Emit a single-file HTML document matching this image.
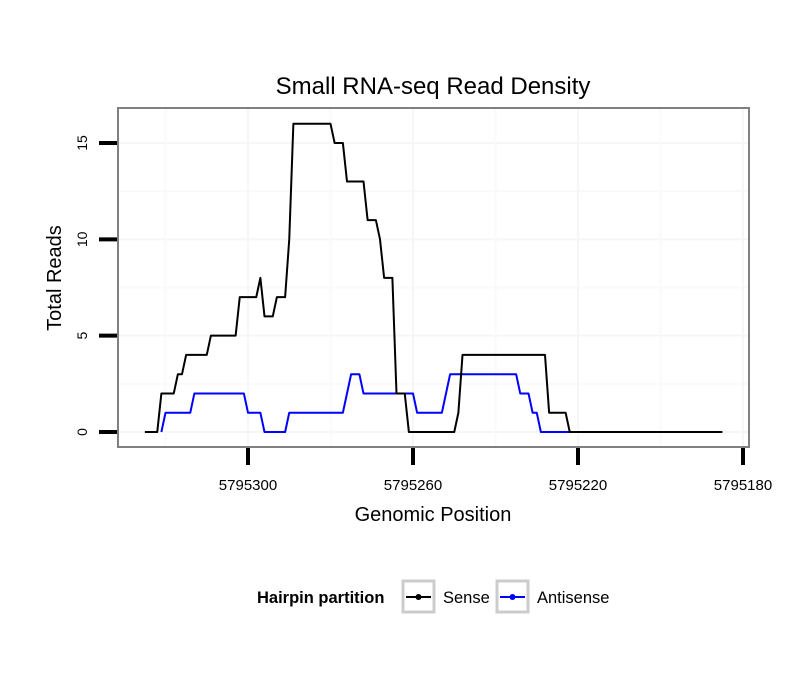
<!DOCTYPE html>
<html><head><meta charset="utf-8"><style>
body{margin:0;background:#fff;}
svg text{font-family:"Liberation Sans",sans-serif;}
</style></head><body>
<svg id="chart" width="810" height="690" xmlns="http://www.w3.org/2000/svg">
<text x="433" y="94" text-anchor="middle" font-size="24">Small RNA-seq Read Density</text>
<g id="grid"></g>
<g id="series"></g>
<rect x="118" y="108" width="631" height="339" fill="none" stroke="#808080" stroke-width="2"/>
<g id="axes"></g>
<text x="433" y="521" text-anchor="middle" font-size="20">Genomic Position</text>
<text transform="translate(61,278) rotate(-90)" text-anchor="middle" font-size="20">Total Reads</text>
<g>
<text x="257" y="603" font-size="16.5" font-weight="bold">Hairpin partition</text>
<g>
<rect x="403" y="581" width="31" height="31" fill="#fff" stroke="#cccccc" stroke-width="3"/>
<line x1="406" y1="597" x2="431" y2="597" stroke="#000" stroke-width="2"/>
<circle cx="418.5" cy="597" r="3" fill="#000"/>
<text x="443" y="603" font-size="16.5">Sense</text>
</g>
<g>
<rect x="497" y="581" width="31" height="31" fill="#fff" stroke="#cccccc" stroke-width="3"/>
<line x1="500" y1="597" x2="525" y2="597" stroke="#0000ff" stroke-width="2"/>
<circle cx="512.5" cy="597" r="3" fill="#0000ff"/>
<text x="537" y="603" font-size="16.5">Antisense</text>
</g>
</g>
</svg>
<script>
const xTicks = [5795300, 5795260, 5795220, 5795180];
const yTicks = [0, 5, 10, 15];
const senseX = [5795325,5795322,5795321,5795318,5795317,5795316,5795315,5795310,5795309,5795303,5795302,5795298,5795297,5795296,5795294,5795293,5795291,5795290,5795289,5795280,5795279,5795277,5795276,5795272,5795271,5795269,5795268,5795267,5795265,5795264,5795262,5795261,5795250,5795249,5795248,5795228,5795227,5795223,5795222,5795185];
const senseY = [0,0,2,2,3,3,4,4,5,5,7,7,8,6,6,7,7,10,16,16,15,15,13,13,11,11,10,8,8,2,2,0,0,1,4,4,1,1,0,0];
const antiX = [5795321,5795320,5795314,5795313,5795301,5795300,5795297,5795296,5795291,5795290,5795277,5795275,5795273,5795272,5795260,5795259,5795253,5795251,5795235,5795234,5795232,5795231,5795230,5795229,5795220];
const antiY = [0,1,1,2,2,1,1,0,0,1,1,3,3,2,2,1,1,3,3,2,2,1,1,0,0];

const NS="http://www.w3.org/2000/svg";
const xs = g => 248 + (5795300 - g) * (413 - 248) / 40;
const ys = v => 432 - v * (432 - 143) / 15;
function mk(tag, attrs, parent){const e=document.createElementNS(NS,tag);for(const k in attrs)e.setAttribute(k,attrs[k]);parent.appendChild(e);return e;}
const grid=document.getElementById('grid'), axes=document.getElementById('axes'), series=document.getElementById('series');
for(let i=0;i<yTicks.length;i++){
  const y=ys(yTicks[i]);
  const gl=mk('line',{x1:119,x2:748,y1:y,y2:y,stroke:'#f6f6f6','stroke-width':2},grid);
  
  
  if(i<yTicks.length-1){const ym=ys((yTicks[i]+yTicks[i+1])/2);
    const m=mk('line',{x1:119,x2:748,y1:ym,y2:ym,stroke:'#fafafa','stroke-width':2},grid);
    
    }
  const t=mk('line',{x1:99,x2:117,y1:y,y2:y,stroke:'#000','stroke-width':4},axes);
  
  
  const lb=mk('text',{transform:`translate(87,${y}) rotate(-90)`,'text-anchor':'middle','font-size':14},axes);
  lb.textContent=yTicks[i];
  
  
}
for(let i=0;i<xTicks.length;i++){
  const x=xs(xTicks[i]);
  if(x<748){const gl=mk('line',{x1:x,x2:x,y1:109,y2:446,stroke:'#f6f6f6','stroke-width':2},grid);
    
    }
  const xm=xs(xTicks[i]+20);
  const m=mk('line',{x1:xm,x2:xm,y1:109,y2:446,stroke:'#fafafa','stroke-width':2},grid);
  
  
  const t=mk('line',{x1:x,x2:x,y1:448,y2:465,stroke:'#000','stroke-width':4},axes);
  
  
  const lb=mk('text',{x:x,y:490,'text-anchor':'middle','font-size':15},axes);
  lb.textContent=xTicks[i];
  
  
}
function line(X,Y,color,name){
  const p=mk('polyline',{points:X.map((g,i)=>xs(g)+','+ys(Y[i])).join(' '),fill:'none',stroke:color,'stroke-width':2,'stroke-linejoin':'round'},series);
  
  
}
line(antiX,antiY,'#0000ff','antisense-line');
line(senseX,senseY,'#000000','sense-line');
</script>
</body></html>
